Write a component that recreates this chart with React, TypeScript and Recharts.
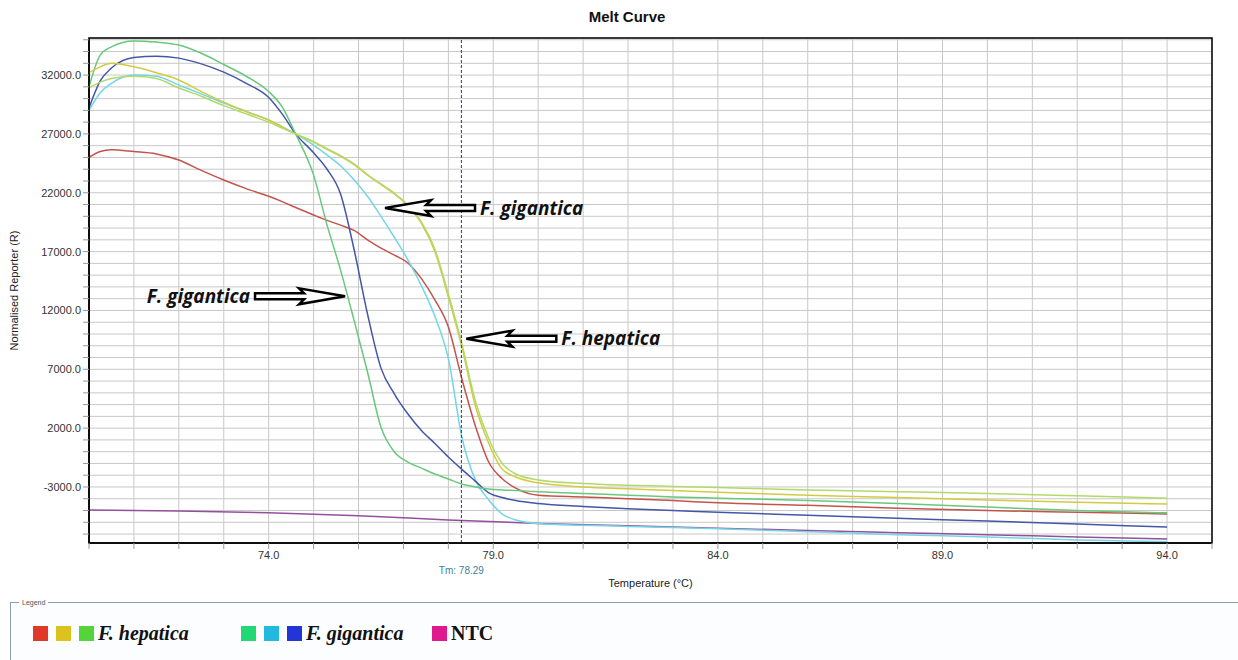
import React from 'react';
import {
  LineChart,
  Line,
  XAxis,
  YAxis,
  CartesianGrid,
  ReferenceLine,
  ReferenceArea,
  ReferenceDot,
} from 'recharts';

// temperature grid (°C) shared by the six sample curves
const temps = [
  70, 70.25, 70.5, 71, 71.5, 72, 72.5, 73, 73.5, 74, 74.3, 74.6, 75, 75.3, 75.6,
  75.9, 76.2, 76.5, 76.8, 77.1, 77.4, 77.7, 78, 78.3, 78.6, 78.9, 79.2, 79.5, 80,
  81, 82, 83, 84, 86, 88, 90, 92, 94,
];

const hepaticaRed = [
  25000, 25500, 25650, 25500, 25300, 24780, 23900, 23080, 22350, 21700, 21250,
  20750, 20110, 19650, 19250, 18800, 18000, 17300, 16700, 16030, 14700, 12900,
  10600, 6200, 2200, -900, -2300, -3100, -3700, -3850, -4000, -4150, -4350,
  -4550, -4800, -5000, -5150, -5290,
];
const hepaticaYellow = [
  32200, 32700, 33000, 32700, 32200, 31580, 30600, 29700, 28900, 28180, 27600,
  27000, 26300, 25700, 25100, 24400, 23500, 22700, 21900, 20900, 19400, 17000,
  13140, 8900, 3900, 700, -1500, -2150, -2650, -3000, -3150, -3300, -3450, -3700,
  -3900, -4100, -4300, -4440,
];
const hepaticaGreen = [
  30900, 31400, 31700, 31900, 31700, 30900, 30200, 29400, 28700, 28000, 27500,
  27000, 26350, 25750, 25150, 24450, 23550, 22750, 21950, 20950, 19500, 17200,
  13400, 9200, 4300, 1100, -1000, -1900, -2400, -2700, -2850, -2950, -3050,
  -3250, -3400, -3550, -3750, -3950,
];
const giganticaGreen = [
  31000, 33700, 34400, 34900, 34800, 34550, 33850, 32900, 31900, 30600, 29300,
  27000, 23500, 19250, 15430, 11180, 6770, 2080, -30, -880, -1400, -1900, -2320,
  -2750, -3000, -3170, -3250, -3300, -3400, -3550, -3700, -3850, -3950, -4150,
  -4400, -4700, -5000, -5200,
];
const giganticaCyan = [
  29000, 30500, 31300, 32000, 31900, 31150, 30400, 29620, 28900, 28180, 27600,
  27000, 26050, 25200, 24300, 23100, 21700, 20000, 18200, 16300, 14100, 11500,
  7900, 1250, -2400, -4100, -5300, -5800, -6100, -6250, -6350, -6450, -6550,
  -6800, -7050, -7250, -7500, -7650,
];
const giganticaBlue = [
  29200, 31500, 32600, 33500, 33600, 33440, 32950, 32250, 31300, 30100, 28700,
  27000, 25400, 24000, 21900, 17200, 11700, 7100, 4900, 3200, 1800, 700, -450,
  -1500, -2500, -3500, -3900, -4150, -4400, -4650, -4850, -5000, -5150, -5400,
  -5650, -5900, -6150, -6400,
];

// no-template control
const ntcTemps = [70, 72, 74, 76, 78, 80, 82, 84, 86, 88, 90, 92, 94];
const ntcValues = [
  -4950, -5050, -5200, -5450, -5800, -6100, -6300, -6500, -6700, -6880, -7050,
  -7250, -7420,
];

const xTicks = Array.from({ length: 26 }, (_, i) => 70 + i);
const xLabels = [74, 79, 84, 89, 94];
const yTicks = Array.from({ length: 43 }, (_, i) => -7000 + i * 1000);
const yLabels = [-3000, 2000, 7000, 12000, 17000, 22000, 27000, 32000];

const tmValue = 78.29;

const annotations = [
  { t: 76.59, v: 20700, text: 'F. gigantica', dir: 'left' },
  { t: 75.7, v: 13200, text: 'F. gigantica', dir: 'right' },
  { t: 78.4, v: 9600, text: 'F. hepatica', dir: 'left' },
];

const meltData = temps.map((t, i) => ({
  t,
  hepaticaRed: hepaticaRed[i],
  hepaticaYellow: hepaticaYellow[i],
  hepaticaGreen: hepaticaGreen[i],
  giganticaGreen: giganticaGreen[i],
  giganticaCyan: giganticaCyan[i],
  giganticaBlue: giganticaBlue[i],
}));
const ntcData = ntcTemps.map((t, i) => ({ t, ntc: ntcValues[i] }));

const series = [
  { key: 'hepaticaRed', color: '#c4534c' },
  { key: 'giganticaCyan', color: '#72d6e6' },
  { key: 'giganticaBlue', color: '#4456a8' },
  { key: 'giganticaGreen', color: '#68c87c' },
  { key: 'hepaticaYellow', color: '#d2cb42' },
  { key: 'hepaticaGreen', color: '#b2da6a' },
];

const legendGroups = [
  { left: 22, colors: ['#e0392a', '#dcc21e', '#55d33a'], text: 'F. hepatica', italic: true },
  { left: 230, colors: ['#22d874', '#22b8e0', '#2236d8'], text: 'F. gigantica', italic: true },
  { left: 421, colors: ['#e01a8e'], text: 'NTC', italic: false },
];

interface ArrowProps {
  cx?: number;
  cy?: number;
  dir: string;
  text: string;
}

const Arrow: React.FC<ArrowProps> = ({ cx, cy, dir, text }) => {
  if (cx === undefined || cy === undefined) return null;
  const s = dir === 'left' ? 1 : -1;
  const pts = [
    [0, 0],
    [46, -8],
    [41, -3],
    [90, -3],
    [90, 3],
    [41, 3],
    [46, 8],
  ]
    .map(([dx, dy]) => `${cx + s * dx},${cy + dy}`)
    .join(' ');
  return (
    <g>
      <polygon points={pts} fill="#fff" stroke="#000" strokeWidth={2.5} />
      <text
        x={cx + s * 95}
        y={cy}
        dy="0.35em"
        textAnchor={dir === 'left' ? 'start' : 'end'}
        fontFamily="'Open Sans', sans-serif"
        fontStyle="italic"
        fontWeight={700}
        fontSize={19}
        fill="#111"
      >
        {text}
      </text>
    </g>
  );
};

const tickFont = { fontSize: 11, fill: '#333', fontFamily: "'Liberation Sans', Arial, sans-serif" };

const App = () => {
  return (
    <div
      style={{
        position: 'relative',
        width: 1238,
        height: 660,
        background: '#fff',
        overflow: 'hidden',
        fontFamily: "'Liberation Sans', Arial, sans-serif",
      }}
    >
      <style>{'body{margin:0}'}</style>
      <div
        style={{
          position: 'absolute',
          left: 0,
          width: 1254,
          top: 8,
          textAlign: 'center',
          fontWeight: 700,
          fontSize: 15,
          color: '#111',
        }}
      >
        Melt Curve
      </div>
      <LineChart
        width={1238}
        height={600}
        margin={{ top: 38, right: 26, bottom: 9, left: 0 }}
        data={meltData}
      >
        <CartesianGrid stroke="#c8c8c8" strokeWidth={1} />
        <XAxis
          dataKey="t"
          type="number"
          domain={[70, 95]}
          ticks={xTicks}
          allowDataOverflow
          interval={0}
          height={48}
          tickSize={6}
          tick={tickFont}
          tickLine={{ stroke: '#999' }}
          axisLine={{ stroke: '#000', strokeWidth: 1.5 }}
          tickFormatter={(v: number) => (xLabels.includes(v) ? v.toFixed(1) : '')}
          label={{
            value: 'Temperature (°C)',
            position: 'insideBottom',
            offset: 4,
            style: { fontSize: 11, fill: '#222' },
          }}
        />
        <YAxis
          type="number"
          domain={[-7760, 35150]}
          ticks={yTicks}
          allowDataOverflow
          interval={0}
          width={89}
          tickSize={6}
          tick={tickFont}
          tickLine={{ stroke: '#999' }}
          axisLine={{ stroke: '#000', strokeWidth: 1.5 }}
          tickFormatter={(v: number) => (yLabels.includes(v) ? v.toFixed(1) : '')}
          label={{
            value: 'Normalised Reporter (R)',
            angle: -90,
            position: 'insideLeft',
            offset: 14,
            style: { textAnchor: 'middle', fontSize: 11, fill: '#222' },
          }}
        />
        <ReferenceArea
          x1={70}
          x2={95}
          y1={-7760}
          y2={35150}
          fill="none"
          stroke="#000"
          strokeWidth={1.5}
          ifOverflow="visible"
        />
        <Line
          data={ntcData}
          dataKey="ntc"
          type="monotone"
          stroke="#94509c"
          strokeWidth={1.5}
          dot={false}
          isAnimationActive={false}
        />
        {series.map((s) => (
          <Line
            key={s.key}
            dataKey={s.key}
            type="monotone"
            stroke={s.color}
            strokeWidth={1.5}
            dot={false}
            isAnimationActive={false}
          />
        ))}
        <ReferenceLine
          x={tmValue}
          stroke="#1f3f6e"
          strokeDasharray="3 2"
          strokeWidth={1}
          label={{
            value: `Tm: ${tmValue}`,
            position: 'bottom',
            offset: 24,
            style: { fontSize: 10, fill: '#3d7fa0' },
          }}
        />
        {annotations.map((a, i) => (
          <ReferenceDot
            key={i}
            x={a.t}
            y={a.v}
            r={1}
            shape={(p: any) => <Arrow cx={p.cx} cy={p.cy} dir={a.dir} text={a.text} />}
          />
        ))}
      </LineChart>
      <div
        style={{
          position: 'absolute',
          left: 10,
          top: 602,
          width: 1228,
          height: 58,
          borderTop: '1px solid #8d9cab',
          borderLeft: '1px solid #8d9cab',
          background: '#fbfdfe',
        }}
      >
        <div
          style={{
            position: 'absolute',
            left: 8,
            top: -5,
            fontSize: 7,
            color: '#555',
            background: '#fbfdfe',
            padding: '0 3px',
            lineHeight: '9px',
          }}
        >
          Legend
        </div>
        {legendGroups.map((g) => (
          <div
            key={g.text}
            style={{
              position: 'absolute',
              left: g.left,
              top: 19,
              display: 'flex',
              alignItems: 'center',
              height: 22,
            }}
          >
            {g.colors.map((c) => (
              <span
                key={c}
                style={{
                  display: 'inline-block',
                  width: 15,
                  height: 15,
                  marginRight: 8,
                  background: c,
                }}
              />
            ))}
            <span
              style={{
                marginLeft: -4,
                fontFamily: "'Liberation Serif', 'Times New Roman', serif",
                fontWeight: 700,
                fontStyle: g.italic ? 'italic' : 'normal',
                fontSize: 20,
                color: '#111',
              }}
            >
              {g.text}
            </span>
          </div>
        ))}
      </div>
    </div>
  );
};

export default App;
